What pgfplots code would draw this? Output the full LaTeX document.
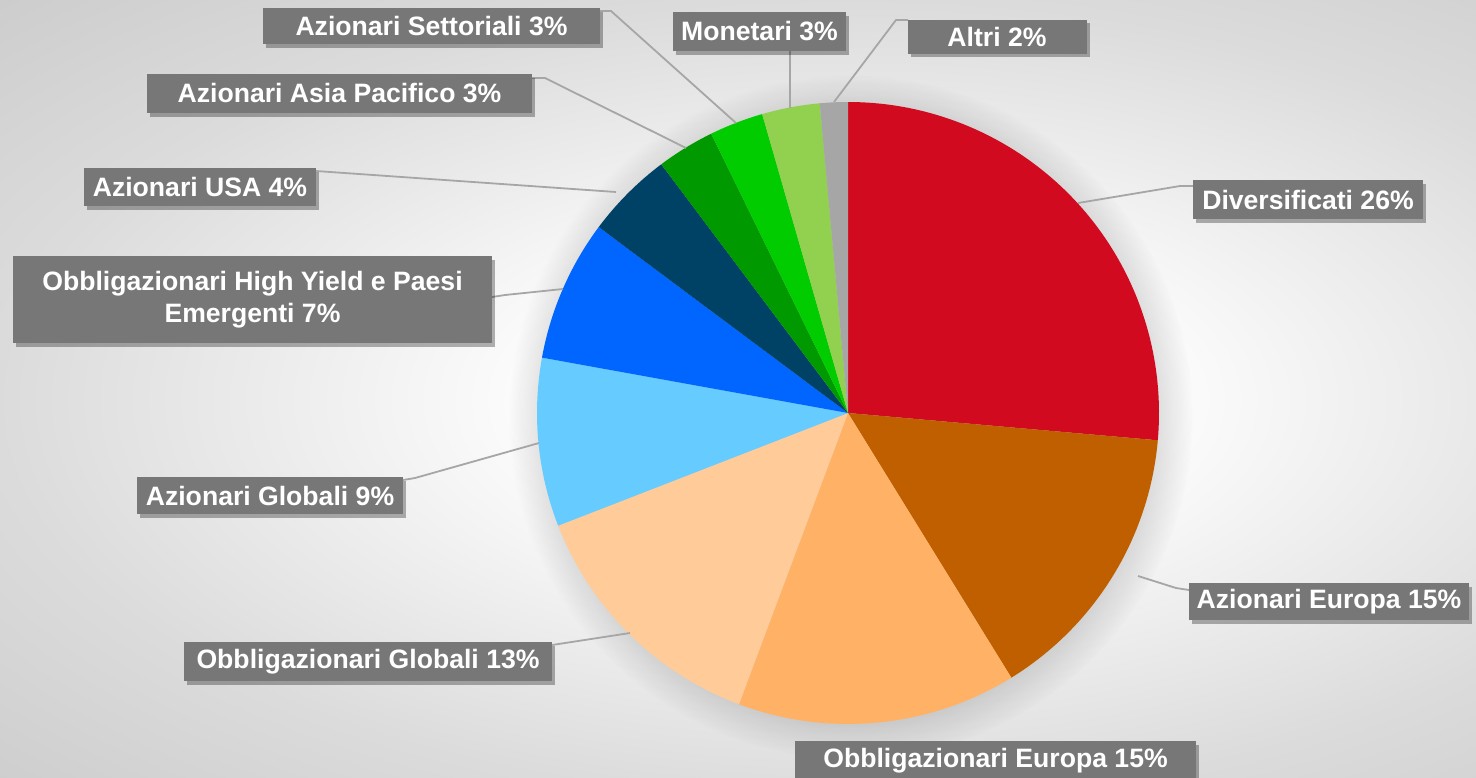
\documentclass[border=0pt]{standalone}
\usepackage{pgfplots}
\pgfplotsset{compat=1.18}
\usepackage{fontspec}
\setmainfont{Liberation Sans}
\usetikzlibrary{shadows,fadings}

\definecolor{cDiv}{HTML}{D20A20}
\definecolor{cAzEu}{HTML}{BF5F00}
\definecolor{cObEu}{HTML}{FFB266}
\definecolor{cObGl}{HTML}{FFCC99}
\definecolor{cAzGl}{HTML}{66CCFF}
\definecolor{cHY}{HTML}{0066FF}
\definecolor{cUSA}{HTML}{004266}
\definecolor{cAsia}{HTML}{009900}
\definecolor{cSett}{HTML}{00CC00}
\definecolor{cMon}{HTML}{92D050}
\definecolor{cAltri}{HTML}{A6A6A6}
\definecolor{boxgray}{HTML}{777777}
\definecolor{leader}{HTML}{A6A6A6}

\pgfdeclareradialshading{bgshade}{\pgfpoint{0bp}{0bp}}{%
  color(0bp)=(white); color(8bp)=(white); color(25bp)=(black!14);
  color(36bp)=(black!20); color(50bp)=(black!20)}

% shares (percent), clockwise from 12 o'clock
\def\vDiv{26.4}\def\vAzEu{14.8}\def\vObEu{14.5}\def\vObGl{13.4}
\def\vAzGl{8.75}\def\vHY{7.35}\def\vUSA{4.55}\def\vAsia{3.0}
\def\vSett{2.8}\def\vMon{3.0}\def\vAltri{1.45}

\begin{document}
\begin{tikzpicture}[
  lbl/.style={fill=boxgray, text=white, font=\fontsize{13.3}{16}\selectfont\bfseries,
    inner sep=0pt, align=center,
    drop shadow={shadow xshift=1.6pt, shadow yshift=-1.8pt, opacity=0.3, fill=black}},
  ld/.style={draw=leader, line width=0.9pt}]
\pgfmathsetmacro\aO{90}
\pgfmathsetmacro\aA{\aO-3.6*\vDiv}
\pgfmathsetmacro\aB{\aA-3.6*\vAzEu}
\pgfmathsetmacro\aC{\aB-3.6*\vObEu}
\pgfmathsetmacro\aD{\aC-3.6*\vObGl}
\pgfmathsetmacro\aE{\aD-3.6*\vAzGl}
\pgfmathsetmacro\aF{\aE-3.6*\vHY}
\pgfmathsetmacro\aG{\aF-3.6*\vUSA}
\pgfmathsetmacro\aH{\aG-3.6*\vAsia}
\pgfmathsetmacro\aI{\aH-3.6*\vSett}
\pgfmathsetmacro\aJ{\aI-3.6*\vMon}
\pgfmathsetmacro\aK{\aJ-3.6*\vAltri}
\def\R{155.5pt}
\begin{axis}[x=0.5pt, y=0.5pt, y dir=reverse,
  xmin=0, xmax=1476, ymin=0, ymax=777,
  hide axis, clip=true, clip mode=global]
  % background
  \fill[shading=bgshade] (axis cs:0,0) rectangle (axis cs:1696,800);
  % pie glow
  \fill[black, opacity=0.22, path fading=circle with fuzzy edge 20 percent]
     (axis cs:851,417) circle[radius=171pt];
  % slices
  \fill[cDiv]   (axis cs:848,413) -- ++(\aO:\R) arc[start angle=\aO, end angle=\aA, radius=\R] -- cycle;
  \fill[cAzEu]  (axis cs:848,413) -- ++(\aA:\R) arc[start angle=\aA, end angle=\aB, radius=\R] -- cycle;
  \fill[cObEu]  (axis cs:848,413) -- ++(\aB:\R) arc[start angle=\aB, end angle=\aC, radius=\R] -- cycle;
  \fill[cObGl]  (axis cs:848,413) -- ++(\aC:\R) arc[start angle=\aC, end angle=\aD, radius=\R] -- cycle;
  \fill[cAzGl]  (axis cs:848,413) -- ++(\aD:\R) arc[start angle=\aD, end angle=\aE, radius=\R] -- cycle;
  \fill[cHY]    (axis cs:848,413) -- ++(\aE:\R) arc[start angle=\aE, end angle=\aF, radius=\R] -- cycle;
  \fill[cUSA]   (axis cs:848,413) -- ++(\aF:\R) arc[start angle=\aF, end angle=\aG, radius=\R] -- cycle;
  \fill[cAsia]  (axis cs:848,413) -- ++(\aG:\R) arc[start angle=\aG, end angle=\aH, radius=\R] -- cycle;
  \fill[cSett]  (axis cs:848,413) -- ++(\aH:\R) arc[start angle=\aH, end angle=\aI, radius=\R] -- cycle;
  \fill[cMon]   (axis cs:848,413) -- ++(\aI:\R) arc[start angle=\aI, end angle=\aJ, radius=\R] -- cycle;
  \fill[cAltri] (axis cs:848,413) -- ++(\aJ:\R) arc[start angle=\aJ, end angle=\aK, radius=\R] -- cycle;
  % leader lines
  \draw[ld] (axis cs:1193,186) -- (axis cs:1180,186) -- (axis cs:1078,203);
  \draw[ld] (axis cs:1189,590) -- (axis cs:1176,588) -- (axis cs:1138,576);
  \draw[ld] (axis cs:552,645) -- (axis cs:565,643) -- (axis cs:630,633);
  \draw[ld] (axis cs:403,480) -- (axis cs:415,478) -- (axis cs:539,443);
  \draw[ld] (axis cs:492,297) -- (axis cs:505,295) -- (axis cs:563,289);
  \draw[ld] (axis cs:316,171) -- (axis cs:616,192);
  \draw[ld] (axis cs:532,78) -- (axis cs:545,78) -- (axis cs:686,148);
  \draw[ld] (axis cs:599,11) -- (axis cs:611,11) -- (axis cs:736,123);
  \draw[ld] (axis cs:790,51) -- (axis cs:790,108);
  \draw[ld] (axis cs:908,20) -- (axis cs:896,20) -- (axis cs:834,102);
  % labels (centre x, centre y; width, height in px)
  \node[lbl, minimum width=115pt, minimum height=19.5pt] at (axis cs:1308,199.5) {Diversificati 26\%};
  \node[lbl, minimum width=140pt, minimum height=18.5pt] at (axis cs:1329,601.5) {Azionari Europa 15\%};
  \node[lbl, minimum width=200.5pt, minimum height=19.5pt] at (axis cs:995.5,760.5) {Obbligazionari Europa 15\%};
  \node[lbl, minimum width=184pt, minimum height=19.5pt] at (axis cs:368,661.5) {Obbligazionari Globali 13\%};
  \node[lbl, minimum width=133pt, minimum height=18.5pt] at (axis cs:270,495.5) {Azionari Globali 9\%};
  \node[lbl, minimum width=239.5pt, minimum height=43.5pt] at (axis cs:252.5,299.5) {Obbligazionari High Yield e Paesi\\Emergenti 7\%};
  \node[lbl, minimum width=116pt, minimum height=19pt] at (axis cs:200,187) {Azionari USA 4\%};
  \node[lbl, minimum width=192.5pt, minimum height=19.5pt] at (axis cs:339.5,93.5) {Azionari Asia Pacifico 3\%};
  \node[lbl, minimum width=168.5pt, minimum height=18pt] at (axis cs:431.5,26) {Azionari Settoriali 3\%};
  \node[lbl, minimum width=86.5pt, minimum height=19.5pt] at (axis cs:759.5,31.5) {Monetari 3\%};
  \node[lbl, minimum width=89.5pt, minimum height=17pt] at (axis cs:997,36.5) {Altri 2\%};
  \coordinate (SW) at (axis cs:0,777);
  \coordinate (NE) at (axis cs:1476,0);
\end{axis}
\pgfresetboundingbox
\useasboundingbox (SW) rectangle (NE);
\end{tikzpicture}
\end{document}
